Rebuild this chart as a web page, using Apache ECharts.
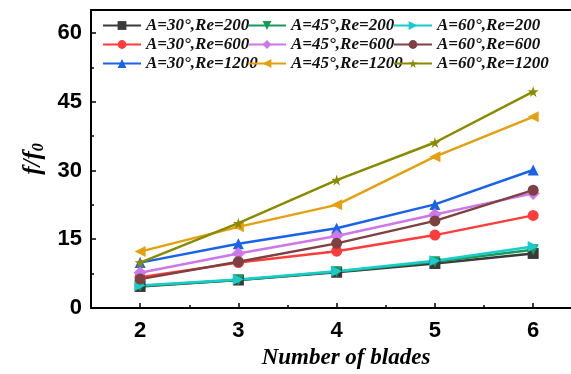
<!DOCTYPE html>
<html>
<head>
<meta charset="utf-8">
<script src="https://cdn.jsdelivr.net/npm/echarts@6/dist/echarts.min.js"></script>
<style>
  html, body { margin: 0; padding: 0; background: #fff; }
  #chart { width: 571px; height: 374px; }
</style>
</head>
<body>
<div id="chart"></div>
<script>
// number of blades on x axis
const blades = [2, 3, 4, 5, 6];
const majorTicks = [2, 3, 4, 5, 6];
const minorTicks = [2.5, 3.5, 4.5, 5.5];

// f/f0
const a30re200 = [4.7, 6.1, 7.8, 9.7, 11.9];
const a45re200 = [4.8, 6.1, 7.9, 10.1, 12.7];
const a60re200 = [4.9, 6.2, 8.0, 10.3, 13.4];
const a30re600 = [6.7, 9.9, 12.4, 15.9, 20.2];
const a45re600 = [7.7, 11.9, 15.7, 20.4, 25.0];
const a60re600 = [6.3, 10.1, 14.1, 19.0, 25.7];
const a30re1200 = [9.9, 14.0, 17.4, 22.6, 30.1];
const a45re1200 = [12.3, 17.7, 22.5, 33.0, 41.7];
const a60re1200 = [9.9, 18.5, 27.9, 36.1, 47.2];

const star = 'path://M50,0 L61,35 L98,35 L68,57 L79,91 L50,70 L21,91 L32,57 L2,35 L39,35 Z';

const seriesDefs = [
  { name: 'A=30°,Re=200', data: a30re200, color: '#3a3a3a', symbol: 'rect', rot: 0 },
  { name: 'A=30°,Re=600', data: a30re600, color: '#ff3c3c', symbol: 'circle', rot: 0 },
  { name: 'A=30°,Re=1200', data: a30re1200, color: '#1a62e6', symbol: 'triangle', rot: 0 },
  { name: 'A=45°,Re=200', data: a45re200, color: '#1a9a5a', symbol: 'triangle', rot: 180 },
  { name: 'A=45°,Re=600', data: a45re600, color: '#cc78e8', symbol: 'diamond', rot: 0 },
  { name: 'A=45°,Re=1200', data: a45re1200, color: '#e4a010', symbol: 'triangle', rot: 90 },
  { name: 'A=60°,Re=200', data: a60re200, color: '#18cccc', symbol: 'triangle', rot: -90 },
  { name: 'A=60°,Re=600', data: a60re600, color: '#7e4040', symbol: 'circle', rot: 0 },
  { name: 'A=60°,Re=1200', data: a60re1200, color: '#8a8a00', symbol: star, rot: 0 }
];

const series = seriesDefs.map(s => ({
  name: s.name,
  type: 'line',
  data: blades.map((b, i) => [b, s.data[i]]),
  symbol: s.symbol,
  symbolRotate: s.rot,
  symbolSize: s.symbol === 'diamond' ? 13 : 11,
  showSymbol: true,
  lineStyle: { width: 2.5, color: s.color },
  itemStyle: { color: s.color },
  animation: false
}));

const legendText = {
  fontFamily: 'Liberation Serif',
  fontStyle: 'italic',
  fontWeight: 'bold',
  fontSize: 17,
  color: '#111'
};

function legendCol(names, left) {
  return {
    orient: 'vertical',
    left: left,
    top: 17,
    padding: 0,
    itemWidth: 38,
    itemHeight: 11,
    itemGap: 2,
    textStyle: legendText,
    data: names
  };
}

const tickFont = { fontFamily: 'Liberation Sans', fontWeight: 'bold', fontSize: 22, color: '#000' };
const xMin = 1.5, xMax = 6.385;

const chart = echarts.init(document.getElementById('chart'));
chart.setOption({
  backgroundColor: '#fff',
  legend: [
    legendCol(['A=30°,Re=200', 'A=30°,Re=600', 'A=30°,Re=1200'], 102),
    legendCol(['A=45°,Re=200', 'A=45°,Re=600', 'A=45°,Re=1200'], 247),
    legendCol(['A=60°,Re=200', 'A=60°,Re=600', 'A=60°,Re=1200'], 393)
  ],
  grid: {
    left: 91, top: 10, right: 0, bottom: 66,
    outerBoundsMode: 'none'
  },
  // the original figure is cropped on the right, no right frame edge
  graphic: [{
    type: 'rect', right: 0, top: 12, z: 100,
    shape: { width: 5, height: 294 },
    style: { fill: '#fff' }
  }],
  xAxis: [
    {
      type: 'value',
      min: xMin, max: xMax,
      name: 'Number of blades',
      nameLocation: 'middle',
      nameGap: 38,
      nameTextStyle: {
        fontFamily: 'Liberation Serif', fontStyle: 'italic', fontWeight: 'bold',
        fontSize: 23, color: '#000', padding: [0, 0, 0, 30]
      },
      axisLine: { show: true, onZero: false, lineStyle: { color: '#000', width: 2 } },
      axisTick: { show: true, inside: true, length: 5, customValues: majorTicks,
        lineStyle: { color: '#000', width: 1.5 } },
      axisLabel: Object.assign({ show: true, customValues: majorTicks, margin: 12 }, tickFont),
      splitLine: { show: false }
    },
    {
      type: 'value',
      min: xMin, max: xMax,
      position: 'bottom',
      axisLine: { show: false },
      axisTick: { show: true, inside: true, length: 3, customValues: minorTicks,
        lineStyle: { color: '#000', width: 1.5 } },
      axisLabel: { show: false },
      splitLine: { show: false }
    },
    {
      // top frame line
      type: 'value',
      min: xMin, max: xMax,
      position: 'top',
      axisLine: { show: true, onZero: false, lineStyle: { color: '#000', width: 2 } },
      axisTick: { show: false },
      axisLabel: { show: false },
      splitLine: { show: false }
    }
  ],
  yAxis: {
    type: 'value',
    min: 0, max: 65, interval: 15,
    name: '{f|f/f}{s|0}',
    nameLocation: 'middle',
    nameGap: 44,
    nameRotate: 90,
    nameTextStyle: {
      rich: {
        f: { fontFamily: 'Liberation Serif', fontStyle: 'italic', fontWeight: 'bold', fontSize: 25, color: '#000' },
        s: { fontFamily: 'Liberation Serif', fontStyle: 'italic', fontWeight: 'bold', fontSize: 16, color: '#000', padding: [10, 0, 0, 0] }
      }
    },
    axisLine: { show: true, onZero: false, lineStyle: { color: '#000', width: 2 } },
    axisTick: { show: true, inside: true, length: 5, lineStyle: { color: '#000', width: 1.5 } },
    minorTick: { show: true, splitNumber: 2, length: 3, lineStyle: { color: '#000', width: 1.5 } },
    axisLabel: Object.assign({ margin: 9, showMaxLabel: false }, tickFont),
    splitLine: { show: false }
  },
  series: series
});
</script>
</body>
</html>
